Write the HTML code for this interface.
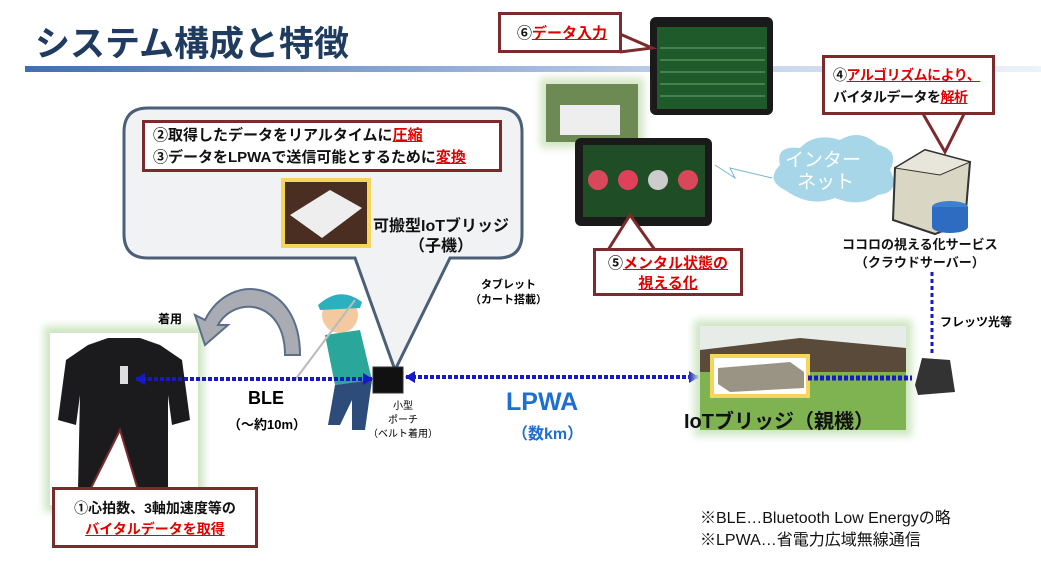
<!DOCTYPE html>
<html><head><meta charset="utf-8"><style>
body{margin:0;width:1041px;height:562px;position:relative;background:#fff;overflow:hidden;font-family:"Liberation Sans","Noto Sans CJK JP",sans-serif;}
.a{position:absolute;white-space:nowrap;}
.box{position:absolute;border:3px solid #7b2b2b;background:#fff;box-sizing:border-box;font-weight:bold;color:#111;white-space:nowrap;}
.r{color:#e00000;text-decoration:underline;}
</style></head><body>
<svg class="a" style="left:0;top:0" width="1041" height="562">
<defs>
<linearGradient id="g1" x1="0" x2="1"><stop offset="0" stop-color="#3e6fb5"/><stop offset="0.6" stop-color="#b7c9e6"/><stop offset="1" stop-color="#eef2f9"/></linearGradient>
<marker id="ar" markerUnits="userSpaceOnUse" markerWidth="10" markerHeight="12" refX="9" refY="6" orient="auto"><path d="M0,0 L10,6 L0,12z" fill="#1818c8"/></marker>
<marker id="al" markerUnits="userSpaceOnUse" markerWidth="10" markerHeight="12" refX="1" refY="6" orient="auto"><path d="M10,0 L0,6 L10,12z" fill="#1818c8"/></marker>
<filter id="gl"><feGaussianBlur stdDeviation="4"/></filter>
</defs>
<rect x="25" y="66" width="1016" height="6" fill="url(#g1)"/>
<path d="M148,108 H498 Q522,108 522,132 V234 Q522,258 498,258 H450 L395,370 L355,258 H148 Q124,258 124,234 V132 Q124,108 148,108z" fill="#f1f2f4" stroke="#4c5f78" stroke-width="3"/>
<rect x="44" y="326" width="160" height="186" fill="#cfe6c4" filter="url(#gl)"/>
<rect x="50" y="333" width="148" height="172" fill="#fff"/>
<path d="M88,345 L108,338 L140,338 L160,345 L182,360 L190,420 L172,425 L168,395 L168,490 L145,500 L98,500 L78,490 L80,395 L76,425 L58,420 L66,360z" fill="#1b1b1d"/>
<rect x="120" y="366" width="8" height="18" fill="#ddd"/>
<path d="M90,490 L120,430 L138,490" fill="#fff" stroke="#7b2b2b" stroke-width="2"/>
<path d="M300,355 C300,280 230,270 205,320 L195,315 L205,345 L228,325 L218,325 C235,295 285,300 285,355z" fill="#a9adb3" stroke="#5a6f8a" stroke-width="2"/>
<circle cx="340" cy="315" r="18" fill="#f5c9a0"/>
<path d="M318,305 Q340,285 362,302 L360,308 L320,310z" fill="#2bb0c0"/>
<path d="M325,335 L360,330 L372,380 L335,385z" fill="#2aa79a"/>
<path d="M335,385 L372,380 L365,430 L352,430 L352,400 L340,425 L328,425z" fill="#2d4c7a"/>
<line x1="355" y1="300" x2="295" y2="380" stroke="#bbb" stroke-width="2"/>
<rect x="373" y="367" width="30" height="26" fill="#111" stroke="#333"/>
<line x1="136" y1="379" x2="372" y2="379" stroke="#1818c8" stroke-width="4" stroke-dasharray="4,2" marker-start="url(#al)" marker-end="url(#ar)"/>
<line x1="406" y1="377" x2="698" y2="377" stroke="#1818c8" stroke-width="4" stroke-dasharray="4,2" marker-start="url(#al)" marker-end="url(#ar)"/>
<rect x="694" y="320" width="218" height="116" fill="#cfe6c4" filter="url(#gl)"/>
<rect x="700" y="326" width="206" height="104" fill="#8fb86a"/>
<rect x="700" y="326" width="206" height="30" fill="#e8ece8"/>
<path d="M700,350 L800,338 L906,348 L906,372 L700,372z" fill="#5a4a3a"/>
<rect x="700" y="372" width="206" height="58" fill="#7fb352"/>
<rect x="710" y="354" width="100" height="44" fill="#f5d65a"/>
<rect x="714" y="358" width="92" height="36" fill="#fff"/>
<path d="M718,368 L790,362 L804,372 L804,388 L730,392 L718,384z" fill="#9a9484"/>
<line x1="808" y1="378" x2="912" y2="378" stroke="#1818c8" stroke-width="5" stroke-dasharray="4,2"/>
<path d="M922,358 L950,360 L955,392 L918,395 L915,385z" fill="#333"/>
<line x1="932" y1="272" x2="932" y2="356" stroke="#1818c8" stroke-width="3" stroke-dasharray="4,3"/>
<rect x="650" y="17" width="123" height="98" rx="6" fill="#1a1a1a"/>
<rect x="657" y="27" width="110" height="82" fill="#1f5a2a"/>
<g stroke="#6aa870" stroke-width="1"><line x1="660" y1="48" x2="765" y2="48"/><line x1="660" y1="60" x2="765" y2="60"/><line x1="660" y1="72" x2="765" y2="72"/><line x1="660" y1="84" x2="765" y2="84"/><line x1="660" y1="96" x2="765" y2="96"/></g>
<rect x="540" y="78" width="104" height="70" fill="#d4e6c8" filter="url(#gl)"/>
<rect x="546" y="84" width="92" height="58" fill="#6d8a55"/>
<rect x="560" y="105" width="60" height="30" fill="#eee"/>
<rect x="575" y="138" width="137" height="88" rx="6" fill="#1a1a1a"/>
<rect x="583" y="145" width="122" height="72" fill="#1e4d26"/>
<circle cx="598" cy="180" r="10" fill="#d8475a"/><circle cx="628" cy="180" r="10" fill="#e0405a"/><circle cx="658" cy="180" r="10" fill="#ccc"/><circle cx="688" cy="180" r="10" fill="#d8475a"/>
<path d="M620,34 L652,48 L620,52" fill="#fff" stroke="#7b2b2b" stroke-width="3"/>
<path d="M608,250 L630,215 L655,250" fill="#fff" stroke="#7b2b2b" stroke-width="3"/>
<path d="M922,112 L945,152 L965,112" fill="#fff" stroke="#7b2b2b" stroke-width="3"/>
<path d="M715,165 L735,178 L730,168 L772,178" fill="none" stroke="#7ab4cc" stroke-width="1"/>
<path d="M785,190 Q765,180 780,165 Q775,145 800,148 Q815,132 840,140 Q860,128 878,145 Q900,150 890,170 Q902,192 878,195 Q860,208 835,198 Q810,208 785,190z" fill="#a6d6e8"/>
<path d="M895,168 L925,150 L970,162 L965,222 L935,234 L893,220z" fill="#d9d6c4" stroke="#333" stroke-width="2"/>
<path d="M925,150 L970,162 L940,175 L895,168z" fill="#e8e6da" stroke="#333" stroke-width="1"/>
<ellipse cx="950" cy="207" rx="18" ry="6" fill="#3f7fd0"/><rect x="932" y="207" width="36" height="20" fill="#2d6cc0"/><ellipse cx="950" cy="227" rx="18" ry="6" fill="#2d6cc0"/>
<rect x="281" y="178" width="90" height="70" fill="#f5d65a"/>
<rect x="285" y="182" width="82" height="62" fill="#4a2e22"/>
<path d="M290,215 L330,190 L362,208 L322,238z" fill="#eee"/>
</svg>
<div class="a" style="left:35px;top:16px;font-size:35px;font-weight:bold;color:#1f3b60;">システム構成と特徴</div>
<div class="box" style="left:498px;top:12px;width:124px;height:41px;font-size:15px;padding:7px 0 0 16px;">⑥<span class="r">データ入力</span></div>
<div class="box" style="left:142px;top:120px;width:360px;height:52px;font-size:15px;line-height:22px;padding:2px 0 0 8px;">②取得したデータをリアルタイムに<span class="r">圧縮</span><br>③データをLPWAで送信可能とするために<span class="r">変換</span></div>
<div class="a" style="left:373px;top:217px;font-size:16px;font-weight:bold;color:#111;line-height:20px;text-align:center;">可搬型IoTブリッジ<br>（子機）</div>
<div class="box" style="left:822px;top:55px;width:173px;height:60px;font-size:14px;line-height:22px;padding:6px 0 0 8px;letter-spacing:-0.5px;">④<span class="r">アルゴリズムにより、</span><br>バイタルデータを<span class="r">解析</span></div>
<div class="box" style="left:593px;top:248px;width:150px;height:48px;font-size:15px;line-height:20px;text-align:center;padding-top:3px;">⑤<span class="r">メンタル状態の</span><br><span class="r">視える化</span></div>
<div class="box" style="left:52px;top:487px;width:206px;height:61px;font-size:14px;line-height:21px;text-align:center;padding-top:8px;">①心拍数、3軸加速度等の<br><span class="r">バイタルデータを取得</span></div>
<div class="a" style="left:785px;top:150px;font-size:19px;color:#fff;line-height:22px;text-align:center;">インター<br>&nbsp;ネット</div>
<div class="a" style="left:842px;top:236px;font-size:13px;font-weight:bold;color:#111;line-height:18px;text-align:center;">ココロの視える化サービス<br>（クラウドサーバー）</div>
<div class="a" style="left:940px;top:313px;font-size:12px;font-weight:bold;">フレッツ光等</div>
<div class="a" style="left:470px;top:278px;font-size:11px;font-weight:bold;line-height:15px;text-align:center;">タブレット<br>（カート搭載）</div>
<div class="a" style="left:158px;top:310px;font-size:12px;font-weight:bold;">着用</div>
<div class="a" style="left:248px;top:388px;font-size:18px;font-weight:bold;">BLE</div>
<div class="a" style="left:228px;top:414px;font-size:13px;font-weight:bold;">（～約10m）</div>
<div class="a" style="left:368px;top:400px;font-size:10px;line-height:14px;text-align:center;">小型<br>ポーチ<br>（ベルト着用）</div>
<div class="a" style="left:506px;top:388px;font-size:25px;font-weight:bold;color:#1f6fd0;">LPWA</div>
<div class="a" style="left:512px;top:420px;font-size:16px;font-weight:bold;color:#1f6fd0;">（数km）</div>
<div class="a" style="left:684px;top:405px;font-size:20px;font-weight:bold;color:#111;">IoTブリッジ（親機）</div>
<div class="a" style="left:700px;top:508px;font-size:16px;line-height:22px;color:#111;">※BLE…Bluetooth Low Energyの略<br>※LPWA…省電力広域無線通信</div>
</body></html>
